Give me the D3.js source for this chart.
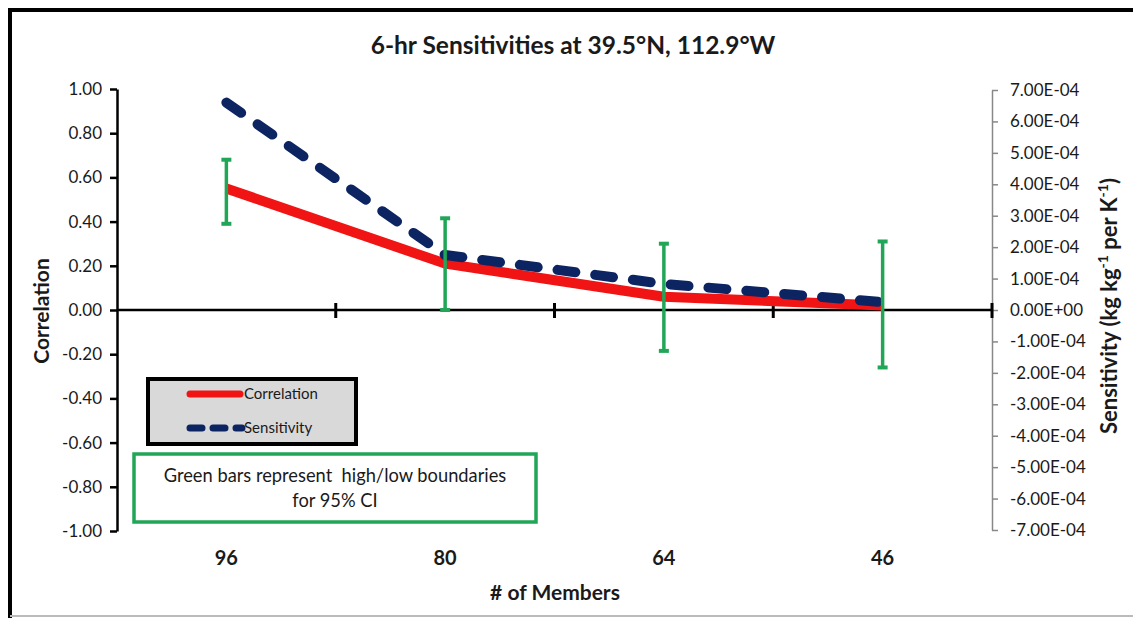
<!DOCTYPE html>
<html>
<head>
<meta charset="utf-8">
<script src="https://cdn.jsdelivr.net/npm/d3@7"></script>
<style>
  body { margin: 0; background: #fff; }
  text { font-family: Lato, "Open Sans", sans-serif; fill: #1a1a1a; }
</style>
</head>
<body>
<div id="chart"></div>
<script>
// data
var members = ["96", "80", "64", "46"];
var correlation = [0.55, 0.21, 0.06, 0.02];
var sensitivity = [6.6e-4, 1.75e-4, 0.83e-4, 0.25e-4];
var ciHigh = [0.68, 0.415, 0.30, 0.31];
var ciLow = [0.39, 0.00, -0.185, -0.26];
var leftTicks = [1, 0.8, 0.6, 0.4, 0.2, 0, -0.2, -0.4, -0.6, -0.8, -1];
var rightTicks = [7e-4, 6e-4, 5e-4, 4e-4, 3e-4, 2e-4, 1e-4, 0, -1e-4, -2e-4, -3e-4, -4e-4, -5e-4, -6e-4, -7e-4];

var W = 1133, H = 618;
var plotL = 117, plotR = 992, plotT = 89, plotB = 531;

var svg = d3.select("#chart").append("svg")
  .attr("width", W).attr("height", H);

// outer frame
svg.append("line").attr("x1", 8).attr("x2", W).attr("y1", 10).attr("y2", 10)
  .attr("stroke", "#000").attr("stroke-width", 4);
svg.append("line").attr("x1", 10).attr("x2", 10).attr("y1", 8).attr("y2", H)
  .attr("stroke", "#000").attr("stroke-width", 4);
svg.append("line").attr("x1", 10).attr("x2", W).attr("y1", 616).attr("y2", 616)
  .attr("stroke", "#bbb").attr("stroke-width", 2);

var x = d3.scaleBand().domain(members).range([plotL, plotR]);
var y = d3.scaleLinear().domain([-1, 1]).range([plotB, plotT]);
var y2 = d3.scaleLinear().domain([-7e-4, 7e-4]).range([plotB - 1, plotT + 1]);

// title
svg.append("text").attr("x", 573).attr("y", 54).attr("text-anchor", "middle")
  .style("font-size", "24.5px").style("font-weight", "bold")
  .text("6-hr Sensitivities at 39.5°N, 112.9°W");

// left axis (plain hyphen for negatives)
var ax = svg.append("g").attr("transform", "translate(" + plotL + ",0)")
  .call(d3.axisLeft(y).tickValues(leftTicks).tickSize(7).tickPadding(8)
    .tickFormat(function(d) { return (d < 0 ? "-" : "") + Math.abs(d).toFixed(2); })
    .tickSizeOuter(0));
ax.select(".domain").attr("stroke", "#000").attr("stroke-width", 2.5);
ax.selectAll(".tick line").attr("stroke", "#000").attr("stroke-width", 2.5);
ax.selectAll(".tick text").style("font-size", "17px").style("font-family", "Lato, sans-serif").attr("fill", "#1a1a1a");

// right axis
var ar = svg.append("g").attr("transform", "translate(" + plotR + ",0)")
  .call(d3.axisRight(y2).tickValues(rightTicks).tickSize(6).tickPadding(12)
    .tickFormat(function(d) {
      if (d === 0) return "0.00E+00";
      return (d < 0 ? "-" : "") + Math.abs(d * 1e4).toFixed(2) + "E-04";
    }).tickSizeOuter(0));
ar.select(".domain").attr("stroke", "#888").attr("stroke-width", 1.5);
ar.selectAll(".tick line").attr("stroke", "#888").attr("stroke-width", 1.5);
ar.selectAll(".tick text").style("font-size", "17px").style("font-family", "Lato, sans-serif").attr("fill", "#1a1a1a");

// zero line with category ticks
svg.append("line").attr("x1", plotL).attr("x2", plotR).attr("y1", y(0)).attr("y2", y(0))
  .attr("stroke", "#000").attr("stroke-width", 2.5);
svg.selectAll(".cat-tick").data(members)
  .enter().append("line")
  .attr("x1", function(d) { return x(d) + x.bandwidth(); })
  .attr("x2", function(d) { return x(d) + x.bandwidth(); })
  .attr("y1", y(0) - 7).attr("y2", y(0) + 8)
  .attr("stroke", "#000").attr("stroke-width", 3);

// category labels
svg.selectAll(".cat-label").data(members).enter().append("text")
  .attr("x", function(d) { return x(d) + x.bandwidth() / 2; })
  .attr("y", 565).attr("text-anchor", "middle")
  .style("font-size", "20px").style("font-weight", "bold")
  .text(function(d) { return d; });

// axis titles
svg.append("text").attr("x", 555).attr("y", 600).attr("text-anchor", "middle")
  .style("font-size", "21px").style("font-weight", "bold").text("# of Members");

svg.append("text").attr("transform", "translate(49,311) rotate(-90)")
  .attr("text-anchor", "middle").style("font-size", "21px").style("font-weight", "bold")
  .text("Correlation");

var st = svg.append("text").attr("transform", "translate(1117,306) rotate(-90)")
  .attr("text-anchor", "middle").style("font-size", "22px").style("font-weight", "bold");
st.append("tspan").text("Sensitivity (kg kg");
st.append("tspan").attr("dy", -9).style("font-size", "14px").text("-1");
st.append("tspan").attr("dy", 9).text(" per K");
st.append("tspan").attr("dy", -9).style("font-size", "14px").text("-1");
st.append("tspan").attr("dy", 9).text(")");

var cx = function(d, i) { return x(members[i]) + x.bandwidth() / 2; };

// correlation line
svg.append("path").datum(correlation)
  .attr("fill", "none").attr("stroke", "#f01414").attr("stroke-width", 10)
  .attr("stroke-linejoin", "round")
  .attr("d", d3.line().x(cx).y(function(d) { return y(d); }));

// sensitivity line
svg.append("path").datum(sensitivity)
  .attr("fill", "none").attr("stroke", "#0c2461").attr("stroke-width", 10)
  .attr("stroke-linecap", "round").attr("stroke-dasharray", "18,20")
  .attr("d", d3.line().x(cx).y(function(d) { return y2(d); }));

// green CI bars
var green = "#21a657";
var ci = svg.selectAll(".ci").data(members).enter().append("g");
ci.append("line")
  .attr("x1", function(d, i) { return cx(d, i); }).attr("x2", function(d, i) { return cx(d, i); })
  .attr("y1", function(d, i) { return y(ciHigh[i]); }).attr("y2", function(d, i) { return y(ciLow[i]); })
  .attr("stroke", green).attr("stroke-width", 3.5);
ci.append("line")
  .attr("x1", function(d, i) { return cx(d, i) - 5; }).attr("x2", function(d, i) { return cx(d, i) + 5; })
  .attr("y1", function(d, i) { return y(ciHigh[i]); }).attr("y2", function(d, i) { return y(ciHigh[i]); })
  .attr("stroke", green).attr("stroke-width", 4);
ci.append("line")
  .attr("x1", function(d, i) { return cx(d, i) - 5; }).attr("x2", function(d, i) { return cx(d, i) + 5; })
  .attr("y1", function(d, i) { return y(ciLow[i]); }).attr("y2", function(d, i) { return y(ciLow[i]); })
  .attr("stroke", green).attr("stroke-width", 4);

// legend
var lg = svg.append("g");
lg.append("rect").attr("x", 148).attr("y", 379).attr("width", 208).attr("height", 65)
  .attr("fill", "#d9d9d9").attr("stroke", "#000").attr("stroke-width", 4);
lg.append("line").attr("x1", 190).attr("x2", 240).attr("y1", 394).attr("y2", 394)
  .attr("stroke", "#f01414").attr("stroke-width", 7).attr("stroke-linecap", "round");
lg.append("text").attr("x", 244).attr("y", 399).style("font-size", "15px").text("Correlation");
lg.append("line").attr("x1", 190).attr("x2", 242).attr("y1", 428).attr("y2", 428)
  .attr("stroke", "#0c2461").attr("stroke-width", 7).attr("stroke-linecap", "round")
  .attr("stroke-dasharray", "12,11");
lg.append("text").attr("x", 244).attr("y", 433).style("font-size", "15px").text("Sensitivity");

// note box
var nb = svg.append("g");
nb.append("rect").attr("x", 134).attr("y", 454).attr("width", 402).attr("height", 68)
  .attr("fill", "#fff").attr("stroke", green).attr("stroke-width", 3.5);
nb.append("text").attr("x", 335).attr("y", 482).attr("text-anchor", "middle")
  .style("font-size", "18.3px").style("white-space", "pre").text("Green bars represent  high/low boundaries");
nb.append("text").attr("x", 335).attr("y", 507).attr("text-anchor", "middle")
  .style("font-size", "18.3px").text("for 95% CI");
</script>
</body>
</html>
